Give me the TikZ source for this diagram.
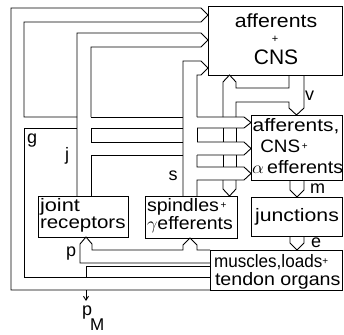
\documentclass[tikz,border=0pt]{standalone}
\usepackage{fontspec}
\usepackage{graphicx}
\setmainfont{Liberation Sans}
\usetikzlibrary{arrows.meta}
\newcommand{\hs}[2]{\scalebox{#1}[1]{#2}}
\begin{document}
\begin{tikzpicture}[x=1pt,y=-1pt, line width=0.9pt, line join=miter,
  box/.style={draw, rectangle, inner sep=0pt, outer sep=0pt},
  tx/.style={inner sep=0pt, outer sep=0pt, font=\fontsize{18}{18}\selectfont},
  sm/.style={inner sep=0pt, outer sep=0pt, font=\fontsize{11}{11}\selectfont}]
\useasboundingbox (0,0) rectangle (344,334);
% boxes
\node[box, minimum width=134pt, minimum height=69pt] (A) at (275,40.5) {};
\node[box, minimum width=91pt, minimum height=65pt] (B) at (296.5,147.5) {};
\node[box, minimum width=91pt, minimum height=39pt] (Jn) at (296.5,216.5) {};
\node[box, minimum width=132pt, minimum height=40pt] (M) at (276,270) {};
\node[box, minimum width=90pt, minimum height=41pt] (J) at (83,216.5) {};
\node[box, minimum width=92pt, minimum height=42pt] (S) at (191,217) {};
% box texts
\node[tx, anchor=base, font=\fontsize{19}{19}\selectfont] (a1) at (276,28) {\hs{1.12}{afferents}};
\node[sm, anchor=base] (a2) at (275,43) {+};
\node[tx, anchor=base, font=\fontsize{21}{21}\selectfont] (a3) at (276,65) {CNS};
\node[tx, anchor=base] (b1) at (296,131) {\hs{1.16}{afferents,}};
\node[tx, anchor=base] (b2) at (284,152) {\hs{1.05}{CNS}\raisebox{3pt}{\fontsize{10}{10}\selectfont\,+}};
\node[tx, anchor=base west] (b3) at (252,173) {\hs{1.09}{$\alpha$\,efferents}};
\node[tx, anchor=base] (n1) at (297,221) {\hs{1.18}{junctions}};
\node[tx, anchor=base west] (j1) at (40,211) {\hs{1.21}{joint}};
\node[tx, anchor=base west] (j2) at (40,228) {\hs{1.14}{receptors}};
\node[tx, anchor=base west] (s1) at (147,211) {\hs{1.09}{spindles}\raisebox{3pt}{\fontsize{10}{10}\selectfont\,+}};
\node[tx, anchor=base west] (s2) at (147,229) {\hs{1.08}{$\gamma$efferents}};
\node[tx, anchor=base west] (m1) at (214,267) {\hs{0.95}{muscles,loads}\raisebox{3pt}{\fontsize{10}{10}\selectfont +}};
\node[tx, anchor=base west] (m2) at (215,285) {\hs{1.09}{tendon organs}};
% labels
\node[tx, anchor=base west] (lg) at (27,143) {g};
\node[tx, anchor=base west] (lj) at (65,160) {j};
\node[tx, anchor=base] (ls) at (173,180) {s};
\node[tx, anchor=base west] (lv) at (305,100) {v};
\node[tx, anchor=base west] (lm) at (310,193) {m};
\node[tx, anchor=base west] (le) at (311,247) {e};
\node[tx, anchor=base west] (lp) at (66,256) {p};
\node[tx, anchor=base west] (lpm) at (82,315) {p};
\node[tx, anchor=base west, font=\fontsize{17}{17}\selectfont] (lM) at (90,330) {M};
% outer g loop
\draw (210,290) -- (11,290) -- (11,8) -- (201,8) -- (208,15) -- (201,22) -- (24,22) -- (24,117) -- (77,117);
\draw (210,277) -- (24,277) -- (24,128) -- (77,128);
\draw (91,117) -- (183,117);
\draw (197,117) -- (244,117) -- (251,122.5) -- (244,128) -- (197,128);
\draw (183,128) -- (91,128);
% j channel
\draw (77,196) -- (77,33) -- (201,33) -- (208,40) -- (201,47) -- (91,47) -- (91,117);
\draw (91,128) -- (91,142) -- (183,142);
\draw (197,142) -- (244,142) -- (251,148.5) -- (244,155) -- (197,155);
\draw (183,155) -- (91,155) -- (91,196);
% s channel
\draw (183,196) -- (183,61) -- (201,61) -- (208,68) -- (201,75) -- (197,75) -- (197,117);
\draw (197,128) -- (197,142);
\draw (197,155) -- (197,167) -- (244,167) -- (251,173.5) -- (244,180) -- (197,180) -- (197,196);
% v channel and its branch down to spindles
\draw (223,117) -- (223,82) -- (229.5,75) -- (236,82) -- (236,88) -- (289,88) -- (289,75);
\draw (223,128) -- (223,142);
\draw (223,155) -- (223,167);
\draw (223,180) -- (223,189) -- (229.5,196) -- (236,189) -- (236,180);
\draw (236,167) -- (236,155);
\draw (236,142) -- (236,128);
\draw (236,117) -- (236,102) -- (289,102) -- (289,108) -- (296.5,115) -- (304,108) -- (304,75);
% m and e
\draw (290,180) -- (290,190) -- (297,197) -- (304,190) -- (304,180);
\draw (290,236) -- (290,243) -- (297,250) -- (304,243) -- (304,236);
% p channel
\draw (210,250) -- (197,250) -- (197,245) -- (190,238) -- (183,245) -- (183,250) -- (92,250) -- (92,244) -- (86,237) -- (80,244) -- (80,263) -- (210,263);
% p_M
\draw (210,266) -- (86,266) -- (86,277);
\draw[-{Straight Barb[length=4pt,width=5pt]}] (86,290) -- (86,301);
\end{tikzpicture}
\end{document}
